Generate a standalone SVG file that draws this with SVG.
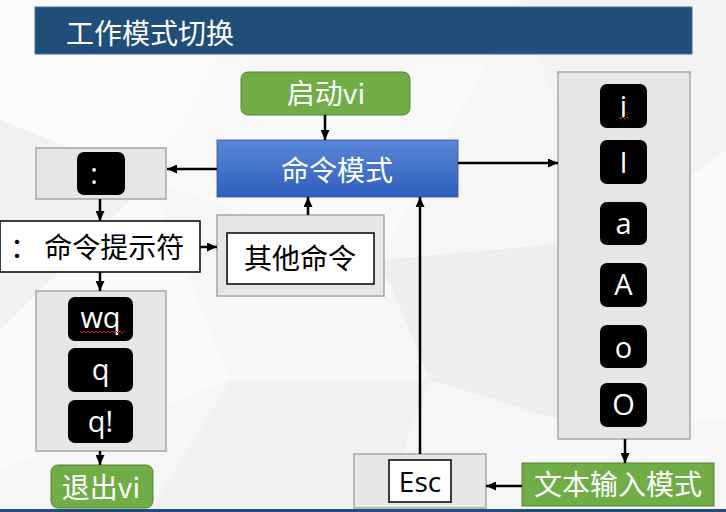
<svg xmlns="http://www.w3.org/2000/svg" width="726" height="512" viewBox="0 0 726 512">
<defs>
<linearGradient id="blueG" x1="0" y1="0" x2="0" y2="1">
<stop offset="0" stop-color="#5A87D6"/>
<stop offset="1" stop-color="#2F5FBE"/>
</linearGradient>
<marker id="ah" markerUnits="userSpaceOnUse" markerWidth="10" markerHeight="9" refX="10" refY="4.5" orient="auto">
<path d="M0,0 L10,4.5 L0,9 z" fill="#000"/>
</marker>
<style>
.cjk{font-family:"Noto Sans CJK SC","Noto Sans",sans-serif;}
.lat{font-family:"Open Sans","Liberation Sans",sans-serif;}
.wt{fill:#fff;}
.bk{fill:#000;}
.grp{fill:#E6E6E6;stroke:#A6A6A6;stroke-width:1.5;}
.key{fill:#000;}
.green{fill:#70AD47;stroke:#548235;stroke-width:1;}
.wbox{fill:#fff;stroke:#000;stroke-width:1.5;}
.conn line{stroke:#000;stroke-width:2.5;marker-end:url(#ah);}
.sq{fill:none;stroke:#E02020;stroke-width:1;}
</style>
</defs>
<!-- background -->
<rect x="0" y="0" width="726" height="512" fill="#F6F6F7"/>
<polygon points="0,0 250,0 150,180 0,120" fill="#FBFBFB"/>
<polygon points="0,120 150,180 0,330" fill="#F1F1F2"/>
<polygon points="250,0 520,0 380,260 150,180" fill="#F9F9FA"/>
<polygon points="520,0 726,0 726,150 600,240" fill="#F3F3F4"/>
<polygon points="380,260 600,240 560,420 430,380" fill="#EEEEF0"/>
<polygon points="600,240 726,150 726,420 560,420" fill="#F9F9FA"/>
<polygon points="0,330 150,180 230,380 0,470" fill="#FAFAFA"/>
<polygon points="230,380 430,380 380,512 150,512" fill="#F1F1F2"/>
<rect x="0" y="509" width="726" height="3" fill="#1F4E79"/>

<g id="title">
<rect x="35" y="7" width="657" height="47" fill="#1F4E79" stroke="#41719C" stroke-width="1"/>
<text x="66" y="44" class="cjk wt" font-size="28">工作模式切换</text>
</g>

<g id="start">
<rect x="241" y="72" width="169" height="43" rx="7" class="green"/>
<text x="326" y="104" class="cjk wt" font-size="28" text-anchor="middle">启动vi</text>
</g>

<g id="cmdmode">
<rect x="217" y="140" width="241" height="57" fill="url(#blueG)" stroke="#2F528F" stroke-width="0.8"/>
<text x="337" y="181" class="cjk wt" font-size="28" text-anchor="middle">命令模式</text>
</g>

<g id="colon">
<rect x="36" y="148" width="130" height="51" class="grp"/>
<rect x="77" y="152" width="48" height="43" rx="7" class="key"/>
<text x="94" y="184" class="lat wt" font-size="29" text-anchor="middle">:</text>
</g>

<g id="prompt">
<rect x="0" y="221" width="200" height="51" class="wbox"/>
<text x="10" y="258" class="cjk bk" font-size="28">： 命令提示符</text>
</g>

<g id="other">
<rect x="217" y="215" width="167" height="81" class="grp"/>
<rect x="227" y="233" width="147" height="51" class="wbox"/>
<text x="300" y="269" class="cjk bk" font-size="28" text-anchor="middle">其他命令</text>
</g>

<g id="quitkeys">
<rect x="36" y="291" width="130" height="160" class="grp"/>
<rect x="68" y="297" width="65" height="44" rx="7" class="key"/>
<text x="100.5" y="328" class="lat wt" font-size="29" text-anchor="middle">wq</text>
<path d="M80,331 l2,2 l2,-2 l2,2 l2,-2 l2,2 l2,-2 l2,2 l2,-2 l2,2 l2,-2 l2,2 l2,-2 l2,2 l2,-2 l2,2 l2,-2 l2,2 l2,-2 l2,2 l2,-2 l2,2 l2,-2" class="sq"/>
<rect x="68" y="348" width="65" height="44" rx="7" class="key"/>
<text x="100.5" y="380" class="lat wt" font-size="29" text-anchor="middle">q</text>
<rect x="68" y="400" width="65" height="43" rx="7" class="key"/>
<text x="100.5" y="432" class="lat wt" font-size="29" text-anchor="middle">q!</text>
</g>

<g id="quit">
<rect x="51" y="465" width="102" height="43" rx="7" class="green"/>
<text x="101" y="498" class="cjk wt" font-size="28" text-anchor="middle">退出vi</text>
</g>

<g id="insertkeys">
<rect x="558" y="72" width="132" height="367" class="grp"/>
<rect x="600" y="84" width="47" height="44" rx="7" class="key"/>
<text x="623.5" y="117" class="lat wt" font-size="29" text-anchor="middle">i</text>
<path d="M619,117 l2,2 l2,-2 l2,2 l2,-2 l2,2" class="sq"/>
<rect x="600" y="140" width="47" height="44" rx="7" class="key"/>
<text x="623.5" y="173" class="lat wt" font-size="29" text-anchor="middle">I</text>
<rect x="600" y="202" width="47" height="43" rx="7" class="key"/>
<text x="623.5" y="233.5" class="lat wt" font-size="29" text-anchor="middle">a</text>
<rect x="600" y="263" width="47" height="44" rx="7" class="key"/>
<text x="623.5" y="295" class="lat wt" font-size="29" text-anchor="middle">A</text>
<rect x="600" y="325" width="47" height="43" rx="7" class="key"/>
<text x="623.5" y="358" class="lat wt" font-size="29" text-anchor="middle">o</text>
<rect x="600" y="383" width="47" height="44" rx="7" class="key"/>
<text x="623.5" y="415" class="lat wt" font-size="29" text-anchor="middle">O</text>
</g>

<g id="textmode">
<rect x="522" y="463" width="192" height="43" fill="#70AD47" stroke="#548235" stroke-width="1"/>
<text x="618" y="495" class="cjk wt" font-size="28" text-anchor="middle">文本输入模式</text>
</g>

<g id="esc">
<rect x="354" y="454" width="132" height="54" class="grp"/>
<rect x="389" y="460" width="62" height="42" class="wbox"/>
<text x="420" y="492" class="lat bk" font-size="28" text-anchor="middle">Esc</text>
</g>

<g id="connectors" class="conn">
<line x1="325" y1="115" x2="325" y2="140"/>
<line x1="217" y1="169" x2="167" y2="169"/>
<line x1="100" y1="199" x2="100" y2="221"/>
<line x1="200" y1="247" x2="217" y2="247"/>
<line x1="308" y1="215" x2="308" y2="197"/>
<line x1="100" y1="272" x2="100" y2="291"/>
<line x1="100" y1="451" x2="100" y2="465"/>
<line x1="458" y1="163" x2="558" y2="163"/>
<line x1="625" y1="439" x2="625" y2="463"/>
<line x1="522" y1="486" x2="486" y2="486"/>
<line x1="420" y1="454" x2="420" y2="197"/>
</g>
</svg>
